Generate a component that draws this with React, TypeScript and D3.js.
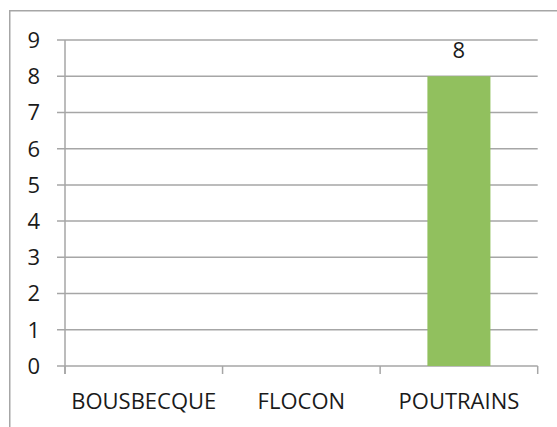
import React from "react";
import * as d3 from "d3";

const categories = ["BOUSBECQUE", "FLOCON", "POUTRAINS"];
const values = [0, 0, 8];
const yTicks = [0, 1, 2, 3, 4, 5, 6, 7, 8, 9];

const W = 557;
const H = 427;
const M = { left: 65, right: 557 - 537.7, top: 40, bottom: 427 - 366 };

export default function App() {
  const x = d3
    .scaleBand<string>()
    .domain(categories)
    .range([M.left, W - M.right])
    .padding(0);
  const y = d3.scaleLinear().domain([0, 9]).range([H - M.bottom, M.top]);
  const bw = x.bandwidth();
  const barW = bw * 0.4;
  const grid = "#a6a6a6";
  const font = "'Open Sans', sans-serif";
  const catTicks = [...categories.map((c) => x(c)!), W - M.right];

  return (
    <svg
      width={W}
      height={H}
      style={{ position: "absolute", left: 0, top: 0, background: "#fff" }}
    >
      <rect x={9.75} y={10.75} width={600} height={600} fill="#fff" stroke={grid} strokeWidth={1.5} />
      {yTicks.map((t) => (
        <g key={t}>
          <line x1={M.left - 8} x2={W - M.right} y1={y(t)} y2={y(t)} stroke={grid} strokeWidth={1.5} />
          <text
            x={40}
            y={y(t)}
            dy="0.36em"
            textAnchor="end"
            fontFamily={font}
            fontSize={22}
            fill="#1a1a1a"
          >
            {t}
          </text>
        </g>
      ))}
      <line x1={M.left} x2={M.left} y1={M.top} y2={y(0) + 8} stroke={grid} strokeWidth={1.5} />
      {catTicks.map((cx, i) => (
        <line key={i} x1={cx} x2={cx} y1={y(0)} y2={y(0) + 8} stroke={grid} strokeWidth={1.5} />
      ))}
      {categories.map((c, i) =>
        values[i] > 0 ? (
          <g key={c}>
            <rect
              x={x(c)! + (bw - barW) / 2}
              y={y(values[i])}
              width={barW}
              height={y(0) - y(values[i])}
              fill="#91c05e"
            />
            <text
              x={x(c)! + bw / 2}
              y={y(values[i]) - 18}
              textAnchor="middle"
              fontFamily={font}
              fontSize={22}
              fill="#1a1a1a"
            >
              {values[i]}
            </text>
          </g>
        ) : null
      )}
      {categories.map((c) => (
        <text
          key={c}
          x={x(c)! + bw / 2}
          y={409}
          textAnchor="middle"
          fontFamily={font}
          fontSize={22}
          fill="#1a1a1a"
        >
          {c}
        </text>
      ))}
    </svg>
  );
}
